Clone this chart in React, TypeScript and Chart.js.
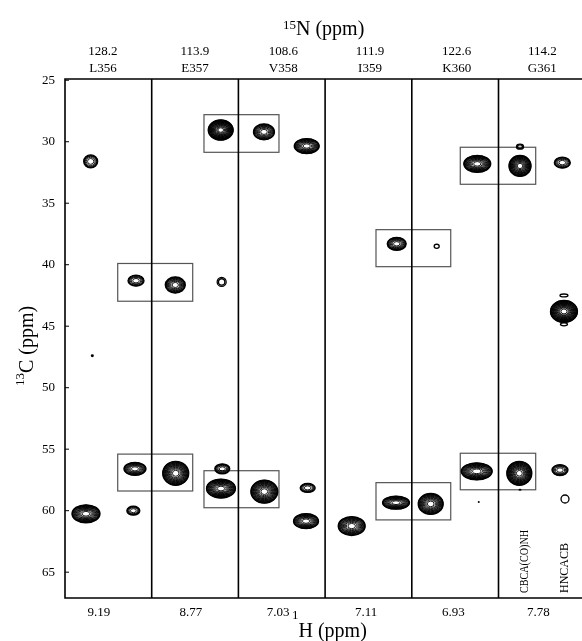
import React, { useEffect, useRef } from 'react';
import { Chart, registerables } from 'chart.js';
Chart.register(...registerables);

// residues and strip shifts
const residues = ['L356', 'E357', 'V358', 'I359', 'K360', 'G361'];
const nShifts = ['128.2', '113.9', '108.6', '111.9', '122.6', '114.2'];
const hShifts = ['9.19', '8.77', '7.03', '7.11', '6.93', '7.78'];
const cTicks = [25, 30, 35, 40, 45, 50, 55, 60, 65];
const topLabelPos = [0.438, 1.499, 2.518, 3.518, 4.518, 5.505];
const bottomLabelPos = [0.392, 1.453, 2.457, 3.472, 4.479, 5.459];
const dividers = [1, 2, 3, 4, 5];

// peaks: x position in strip units, 13C shift (ppm), linewidths, contour levels
const peakX = [0.296, 0.315, 0.242, 0.788, 0.819, 0.807, 1.272, 1.277, 1.796, 1.807, 1.814, 1.799, 2.295, 2.299, 2.788, 2.799, 2.78, 3.307, 3.826, 3.818, 4.287, 4.218, 4.755, 4.749, 4.772, 5.248, 5.248, 5.24, 5.248, 5.736, 5.755, 5.755, 5.755, 5.709, 5.767];
const peakC = [31.6, 47.4, 60.25, 60.0, 41.3, 56.6, 41.65, 56.96, 29.05, 41.4, 56.6, 58.2, 29.2, 58.45, 30.35, 58.15, 60.85, 61.25, 38.3, 59.35, 38.5, 59.45, 31.8, 56.8, 59.3, 30.4, 31.97, 56.96, 58.3, 31.7, 42.5, 43.8, 44.85, 56.7, 59.05];
const peakWX = [0.161, 0.035, 0.323, 0.15, 0.185, 0.254, 0.231, 0.3, 0.288, 0.104, 0.173, 0.334, 0.242, 0.311, 0.288, 0.173, 0.288, 0.311, 0.219, 0.311, 0.058, 0.288, 0.311, 0.358, 0.023, 0.081, 0.254, 0.288, 0.035, 0.185, 0.092, 0.311, 0.081, 0.185, 0.092];
const peakWC = [1.06, 0.24, 1.46, 0.73, 0.89, 1.06, 1.3, 1.95, 1.63, 0.73, 0.81, 1.54, 1.3, 1.87, 1.22, 0.73, 1.22, 1.54, 1.06, 1.06, 0.33, 1.71, 1.38, 1.38, 0.16, 0.41, 1.71, 1.95, 0.16, 0.89, 0.24, 1.79, 0.24, 0.89, 0.65];
const peakLevels = [5, 1, 14, 5, 6, 10, 10, 16, 20, 2, 6, 16, 10, 16, 12, 5, 12, 13, 9, 12, 1, 14, 14, 14, 1, 2, 16, 18, 1, 6, 1, 20, 1, 6, 1];

// connectivity boxes
const boxX = [[0.608, 1.473], [0.608, 1.473], [1.603, 2.468], [1.603, 2.468], [3.587, 4.449], [3.587, 4.449], [4.559, 5.429], [4.559, 5.429]];
const boxC = [[39.9, 42.97], [55.4, 58.4], [27.8, 30.86], [56.75, 59.76], [37.15, 40.16], [57.72, 60.75], [30.45, 33.46], [55.33, 58.3]];

const X_MAX = 5.963;
const FONT = '"Liberation Serif", "Times New Roman", serif';

function supText(ctx: CanvasRenderingContext2D, sup: string, main: string, x: number, y: number, raise: number) {
  ctx.textAlign = 'left';
  ctx.textBaseline = 'alphabetic';
  ctx.fillStyle = '#000';
  ctx.font = `13px ${FONT}`;
  ctx.fillText(sup, x, y - raise);
  const w = ctx.measureText(sup).width;
  ctx.font = `20px ${FONT}`;
  ctx.fillText(main, x + w, y);
}

const spectrumPlugin = {
  id: 'spectrum',
  beforeDatasetsDraw(chart: any) {
    const ctx = chart.ctx as CanvasRenderingContext2D;
    const xs = chart.scales.x;
    const ys = chart.scales.y;
    const a = chart.chartArea;
    ctx.save();
    ctx.beginPath();
    ctx.rect(a.left - 2, a.top - 2, a.right - a.left + 4, a.bottom - a.top + 4);
    ctx.clip();
    // boxes
    ctx.strokeStyle = '#555';
    ctx.lineWidth = 1.2;
    boxX.forEach((bx, i) => {
      const x1 = xs.getPixelForValue(bx[0]);
      const x2 = xs.getPixelForValue(bx[1]);
      const y1 = ys.getPixelForValue(boxC[i][0]);
      const y2 = ys.getPixelForValue(boxC[i][1]);
      ctx.strokeRect(x1, y1, x2 - x1, y2 - y1);
    });
    // strip dividers
    ctx.strokeStyle = '#000';
    ctx.lineWidth = 1.6;
    dividers.forEach((d) => {
      const x = xs.getPixelForValue(d);
      ctx.beginPath();
      ctx.moveTo(x, a.top);
      ctx.lineTo(x, a.bottom);
      ctx.stroke();
    });
    // frame
    ctx.beginPath();
    ctx.moveTo(a.right + 2, a.top);
    ctx.lineTo(a.left, a.top);
    ctx.lineTo(a.left, a.bottom);
    ctx.lineTo(a.right + 2, a.bottom);
    ctx.stroke();
    // inward y ticks
    ctx.lineWidth = 1;
    cTicks.forEach((t) => {
      const y = ys.getPixelForValue(t);
      ctx.beginPath();
      ctx.moveTo(a.left, y);
      ctx.lineTo(a.left + 4, y);
      ctx.stroke();
    });
    // peaks as contour ellipses
    peakX.forEach((px, i) => {
      const cx = xs.getPixelForValue(px);
      const cy = ys.getPixelForValue(peakC[i]);
      const rx = Math.abs(xs.getPixelForValue(px + peakWX[i] / 2) - cx);
      const ry = Math.abs(ys.getPixelForValue(peakC[i] + peakWC[i] / 2) - cy);
      const n = peakLevels[i];
      if (rx < 1.6 && ry < 1.6) {
        ctx.fillStyle = '#000';
        ctx.beginPath();
        ctx.ellipse(cx, cy, Math.max(rx, 0.9), Math.max(ry, 0.9), 0, 0, Math.PI * 2);
        ctx.fill();
        return;
      }
      for (let k = 0; k < n; k++) {
        const f = Math.sqrt(1 - k / n);
        ctx.lineWidth = k < 2 ? 1.3 : 0.9;
        ctx.beginPath();
        ctx.ellipse(cx, cy, Math.max(rx * f, 0.5), Math.max(ry * f, 0.5), 0, 0, Math.PI * 2);
        ctx.stroke();
      }
    });
    ctx.restore();
  },
  afterDraw(chart: any) {
    const ctx = chart.ctx as CanvasRenderingContext2D;
    ctx.save();
    supText(ctx, '15', 'N (ppm)', 283, 35, 6);
    supText(ctx, '1', 'H (ppm)', 292, 637, 18);
    ctx.save();
    ctx.translate(33, 386);
    ctx.rotate(-Math.PI / 2);
    supText(ctx, '13', 'C (ppm)', 0, 0, 9);
    ctx.restore();
    ctx.font = `12px ${FONT}`;
    ctx.fillStyle = '#000';
    ctx.textAlign = 'left';
    ctx.textBaseline = 'alphabetic';
    ctx.save();
    ctx.translate(528, 593);
    ctx.rotate(-Math.PI / 2);
    ctx.fillText('CBCA(CO)NH', 0, 0, 63);
    ctx.restore();
    ctx.save();
    ctx.translate(568, 593);
    ctx.rotate(-Math.PI / 2);
    ctx.fillText('HNCACB', 0, 0);
    ctx.restore();
    ctx.restore();
  },
};

export default function App() {
  const ref = useRef<HTMLCanvasElement | null>(null);
  useEffect(() => {
    if (!ref.current) return;
    const tickFont = { family: FONT, size: 13, lineHeight: 1.3 };
    const chart = new Chart(ref.current, {
      type: 'scatter',
      data: {
        datasets: [
          {
            data: peakX.map((x, i) => ({ x, y: peakC[i] })),
            pointRadius: 0,
            pointHoverRadius: 0,
            xAxisID: 'x',
            yAxisID: 'y',
          },
        ],
      },
      options: {
        animation: false,
        responsive: false,
        devicePixelRatio: 1,
        layout: { padding: 0 },
        events: [],
        plugins: { legend: { display: false }, tooltip: { enabled: false }, title: { display: false } },
        scales: {
          x: {
            type: 'linear',
            position: 'bottom',
            min: 0,
            max: X_MAX,
            grid: { display: false, drawTicks: false },
            border: { display: false },
            afterBuildTicks: (s: any) => {
              s.ticks = bottomLabelPos.map((v) => ({ value: v }));
            },
            afterFit: (s: any) => {
              s.height = 43;
            },
            ticks: {
              autoSkip: false,
              maxRotation: 0,
              padding: 6,
              color: '#000',
              font: tickFont,
              callback: (_v: any, i: number) => hShifts[i],
            },
          },
          x2: {
            type: 'linear',
            position: 'top',
            min: 0,
            max: X_MAX,
            grid: { display: false, drawTicks: false },
            border: { display: false },
            afterBuildTicks: (s: any) => {
              s.ticks = topLabelPos.map((v) => ({ value: v }));
            },
            afterFit: (s: any) => {
              s.height = 79;
            },
            ticks: {
              autoSkip: false,
              maxRotation: 0,
              padding: 2,
              color: '#000',
              font: tickFont,
              callback: (_v: any, i: number) => [nShifts[i], residues[i]],
            },
          },
          y: {
            type: 'linear',
            reverse: true,
            min: 24.9,
            max: 67.1,
            grid: { display: false, drawTicks: false },
            border: { display: false },
            afterBuildTicks: (s: any) => {
              s.ticks = cTicks.map((v) => ({ value: v }));
            },
            afterFit: (s: any) => {
              s.width = 65;
            },
            ticks: {
              padding: 10,
              color: '#000',
              font: { family: FONT, size: 13 },
            },
          },
        },
      },
      plugins: [spectrumPlugin],
    });
    return () => chart.destroy();
  }, []);
  return (
    <div style={{ position: 'absolute', left: 0, top: 0, width: 582, height: 641, background: '#fff' }}>
      <canvas ref={ref} width={582} height={641} style={{ display: 'block', width: 582, height: 641 }} />
    </div>
  );
}
